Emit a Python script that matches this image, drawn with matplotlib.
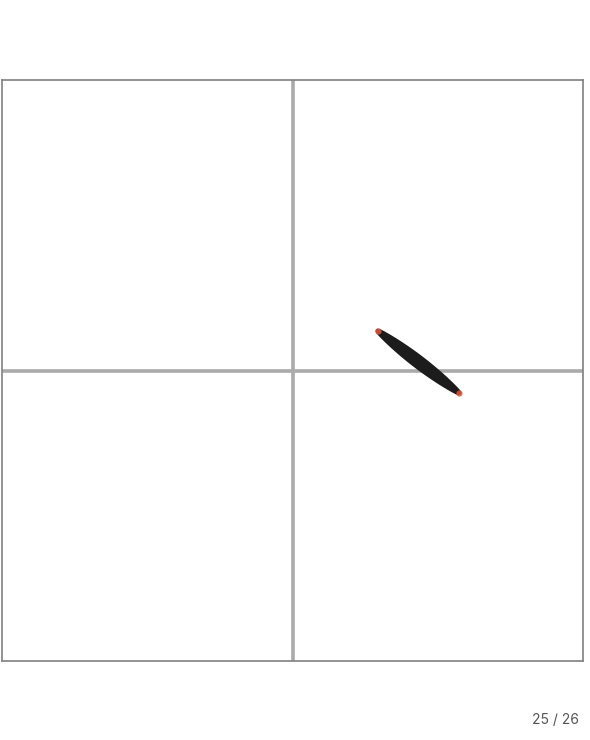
import numpy as np
import matplotlib
matplotlib.use("Agg")
import matplotlib.pyplot as plt

# data
start_pt = [0.294, 0.136]
end_pt = [0.573, -0.077]
bulge = 0.015  # half-thickness of lens at its middle (data units)
page_label = "25 / 26"

fig = plt.figure(figsize=(5.9, 7.4), dpi=100)
ax = fig.add_axes([2/590, 1 - 661/740, 581/590, 581/740])
ax.set_xlim(-1, 1)
ax.set_ylim(-1, 1)
ax.set_xticks([])
ax.set_yticks([])
for s in ax.spines.values():
    s.set_color("#808080")
    s.set_linewidth(1.2)
ax.axhline(0, color="#aaaaaa", lw=2.6, zorder=1)
ax.axvline(0, color="#aaaaaa", lw=2.6, zorder=1)

p0 = np.array(start_pt)
p1 = np.array(end_pt)
t = np.linspace(0, 1, 80)
d = p1 - p0
n = np.array([-d[1], d[0]]) / np.hypot(*d)
w = bulge * np.sin(np.pi * t) ** 0.7
line = p0[None, :] + t[:, None] * d[None, :]
upper = line + w[:, None] * n[None, :]
lower = line - w[:, None] * n[None, :]
poly = np.vstack([upper, lower[::-1]])
ax.fill(poly[:, 0], poly[:, 1], color="#1c1c1c", zorder=3, lw=3.5,
        ec="#1c1c1c", joinstyle="round")
ax.scatter([p0[0], p1[0]], [p0[1], p1[1]], s=20, color="#e0553c", zorder=4,
           lw=0, alpha=0.85)

fig.text(555/590, 1 - 720/740, page_label, ha="center", va="center",
         fontsize=10, color="#555555", family="Inter")

fig.savefig("out.png", dpi=100)
